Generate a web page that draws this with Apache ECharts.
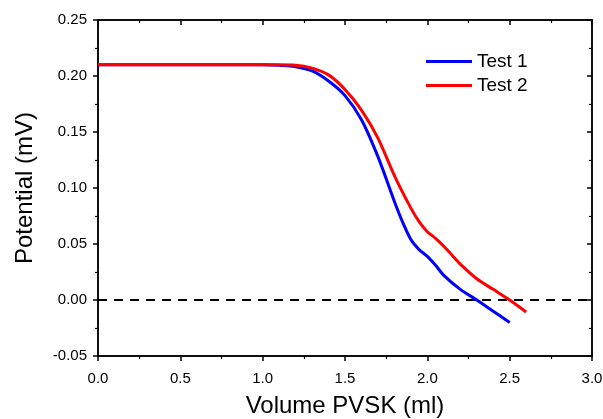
<!DOCTYPE html>
<html>
<head>
<meta charset="utf-8">
<script src="https://cdn.jsdelivr.net/npm/echarts@6/dist/echarts.min.js"></script>
<style>
  html, body { margin: 0; padding: 0; background: #fff; }
  #main { width: 603px; height: 419px; }
</style>
</head>
<body>
<div id="main"></div>
<script>
// volume of PVSK (ml) and potential (mV)
var volume1 = [0, 0.5, 1.0, 1.1, 1.2, 1.3, 1.4, 1.5, 1.6, 1.7, 1.8, 1.85, 1.9, 1.95, 2.0, 2.05, 2.1, 2.2, 2.3, 2.4, 2.5];
var test1 = [0.21, 0.21, 0.21, 0.2095, 0.2083, 0.2045, 0.1955, 0.1825, 0.161, 0.128, 0.088, 0.0695, 0.054, 0.045, 0.039, 0.031, 0.022, 0.0095, 0.000, -0.010, -0.020];

var volume2 = [0, 0.5, 1.0, 1.1, 1.2, 1.3, 1.4, 1.5, 1.6, 1.7, 1.8, 1.9, 1.95, 2.0, 2.05, 2.1, 2.15, 2.2, 2.3, 2.4, 2.5, 2.6];
var test2 = [0.21, 0.21, 0.21, 0.21, 0.2097, 0.207, 0.201, 0.188, 0.1695, 0.1445, 0.111, 0.082, 0.070, 0.061, 0.055, 0.048, 0.040, 0.032, 0.019, 0.0095, 0.000, -0.0107];

var seriesNames = ['Test 1', 'Test 2'];
var zeroLineX = [0, 3];

function pairs(xs, ys) {
    var out = [];
    for (var i = 0; i < xs.length; i++) out.push([xs[i], ys[i]]);
    return out;
}

var font = 'Liberation Sans, Arial, sans-serif';

function axisLine() { return { show: true, onZero: false, lineStyle: { color: '#000', width: 1.5 } }; }
function majorTick(inside) { return { show: true, inside: inside, length: 5, lineStyle: { color: '#000', width: 1.5 } }; }
function minorTick() { return { show: true, splitNumber: 2, length: 3, lineStyle: { color: '#000', width: 1.2 } }; }

var myChart = echarts.init(document.getElementById('main'));
var option = {
    animation: false,
    grid: { left: 98, right: 11, top: 20, bottom: 63, outerBoundsMode: 'none',
        show: true, borderColor: '#000', borderWidth: 1.5 },
    legend: {
        data: seriesNames,
        orient: 'vertical',
        left: 421,
        top: 47,
        icon: 'rect',
        itemWidth: 46,
        itemHeight: 3,
        itemGap: 5,
        textStyle: { fontFamily: font, fontSize: 19, color: '#000' }
    },
    xAxis: [
        {
            type: 'value', position: 'bottom', min: 0, max: 3, interval: 0.5,
            name: 'Volume PVSK (ml)', nameLocation: 'middle', nameGap: 38,
            nameTextStyle: { fontFamily: font, fontSize: 24, color: '#000' },
            axisLine: axisLine(), axisTick: majorTick(false), minorTick: minorTick(),
            axisLabel: { fontFamily: font, fontSize: 15, color: '#000', margin: 15,
                formatter: function (v) { return v.toFixed(1); } },
            splitLine: { show: false }
        },
        {
            type: 'value', position: 'top', min: 0, max: 3, interval: 0.5,
            axisLine: axisLine(), axisTick: majorTick(true), minorTick: minorTick(),
            axisLabel: { show: false },
            splitLine: { show: false }
        }
    ],
    yAxis: [
        {
            type: 'value', position: 'left', min: -0.05, max: 0.25, interval: 0.05,
            name: 'Potential (mV)', nameLocation: 'middle', nameGap: 61,
            nameTextStyle: { fontFamily: font, fontSize: 24, color: '#000' },
            axisLine: axisLine(), axisTick: majorTick(false), minorTick: minorTick(),
            axisLabel: { fontFamily: font, fontSize: 15, color: '#000', margin: 11,
                formatter: function (v) { return v.toFixed(2); } },
            splitLine: { show: false }
        },
        {
            type: 'value', position: 'right', min: -0.05, max: 0.25, interval: 0.05,
            axisLine: axisLine(), axisTick: majorTick(true), minorTick: minorTick(),
            axisLabel: { show: false },
            splitLine: { show: false }
        }
    ],
    series: [
        {
            // dashed zero line, bound to the mirror axes
            name: 'zero', type: 'line', xAxisIndex: 1, yAxisIndex: 1,
            data: pairs(zeroLineX, [0, 0]),
            symbol: 'none', silent: true,
            lineStyle: { color: '#000', width: 2, type: [9, 7] }
        },
        {
            name: seriesNames[0], type: 'line', xAxisIndex: 0, yAxisIndex: 0,
            data: pairs(volume1, test1),
            smooth: 0.3, symbol: 'none',
            itemStyle: { color: '#0000ff' },
            lineStyle: { color: '#0000ff', width: 3 }
        },
        {
            name: seriesNames[1], type: 'line', xAxisIndex: 0, yAxisIndex: 0,
            data: pairs(volume2, test2),
            smooth: 0.3, symbol: 'none',
            itemStyle: { color: '#ff0000' },
            lineStyle: { color: '#ff0000', width: 3 }
        }
    ]
};
myChart.setOption(option);
</script>
</body>
</html>
